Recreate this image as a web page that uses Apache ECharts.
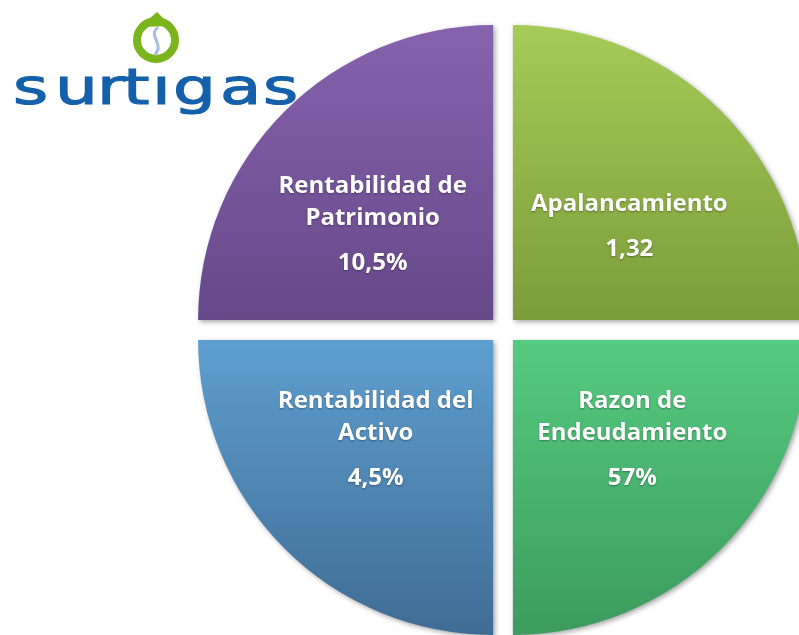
<!DOCTYPE html>
<html>
<head>
<meta charset="utf-8">
<script src="https://cdn.jsdelivr.net/npm/echarts@6/dist/echarts.min.js"></script>
<style>
  html, body { margin: 0; padding: 0; background: #fff; }
  #main { width: 799px; height: 635px; }
</style>
</head>
<body>
<div id="main"></div>
<script>
// Indicadores financieros
const names = ['Apalancamiento', 'Razon de\nEndeudamiento', 'Rentabilidad del\nActivo', 'Rentabilidad de\nPatrimonio'];
const shares = [25, 25, 25, 25];
const valueLabels = ['1,32', '57%', '4,5%', '10,5%'];

// top / bottom colours of each quadrant
const colors = [
  ['#A4CC57', '#7C9C3A'],
  ['#55CB80', '#3C9B5D'],
  ['#5E9FD0', '#3F6C94'],
  ['#8762AE', '#674889']
];
// nudge of each label from the default inside spot
const labelOffsets = [[10, 19], [13, 0], [-11, 0], [-14, 17]];

// logo letters (x position of each glyph)
const logoLetters = ['s', 'u', 'r', 't', '\u0131', 'g', 'a', 's'];
const logoX = [13, 55, 97, 123, 152, 173, 220, 263];

var chart = echarts.init(document.getElementById('main'));

const data = names.map(function (n, i) {
  return {
    name: n,
    value: shares[i],
    selected: true,
    itemStyle: {
      color: {
        type: 'linear', x: 0, y: 0, x2: 0, y2: 1,
        colorStops: [
          { offset: 0, color: colors[i][0] },
          { offset: 1, color: colors[i][1] }
        ]
      }
    }
  };
});

const logo = logoLetters.map(function (ch, i) {
  return {
    type: 'text',
    x: logoX[i],
    y: 116,
    scaleX: 1.35,
    z: 100,
    style: {
      text: ch,
      fontFamily: 'DejaVu Sans',
      fontSize: 50,
      fill: '#1560AA',
      stroke: '#1560AA',
      lineWidth: 1.2,
      align: 'left',
      verticalAlign: 'bottom'
    }
  };
});

option = {
  backgroundColor: '#ffffff',
  animation: false,
  graphic: logo.concat([
    {
      type: 'circle',
      z: 100,
      shape: { cx: 156, cy: 40, r: 19 },
      style: { fill: 'none', stroke: '#7AB51D', lineWidth: 8 }
    },
    {
      type: 'polygon',
      z: 100,
      shape: { points: [[140, 27], [157, 12], [171, 26]] },
      style: { fill: '#7AB51D' }
    },
    {
      type: 'bezierCurve',
      z: 101,
      shape: { x1: 158, y1: 27, cpx1: 147, cpy1: 37, cpx2: 165, cpy2: 42, x2: 155, y2: 55 },
      style: { stroke: '#A9BEDF', lineWidth: 3, fill: 'none' }
    }
  ]),
  series: [
    {
      type: 'pie',
      center: [503, 330],
      radius: [0, 295],
      startAngle: 90,
      clockwise: true,
      selectedMode: 'multiple',
      selectedOffset: 14,
      silent: true,
      emphasis: { disabled: true },
      itemStyle: {
        shadowColor: 'rgba(0,0,0,0.35)',
        shadowBlur: 5,
        shadowOffsetX: 2,
        shadowOffsetY: 2
      },
      label: {
        show: true,
        position: 'inside',
        formatter: function (p) {
          const lines = p.name.split('\n').map(function (s) { return '{n|' + s + '}'; });
          return lines.join('\n') + '\n{v|' + valueLabels[p.dataIndex] + '}';
        },
        rich: {
          n: {
            fontFamily: 'Open Sans', fontWeight: 'bold', fontSize: 24,
            color: '#ffffff', lineHeight: 32, align: 'center'
          },
          v: {
            fontFamily: 'Open Sans', fontWeight: 'bold', fontSize: 24,
            color: '#ffffff', lineHeight: 58, align: 'center'
          }
        },
        textShadowColor: 'rgba(0,0,0,0.35)',
        textShadowBlur: 2,
        textShadowOffsetY: 1
      },
      labelLayout: function (p) {
        return { dx: labelOffsets[p.dataIndex][0], dy: labelOffsets[p.dataIndex][1] };
      },
      labelLine: { show: false },
      data: data
    }
  ]
};

chart.setOption(option);
</script>
</body>
</html>
